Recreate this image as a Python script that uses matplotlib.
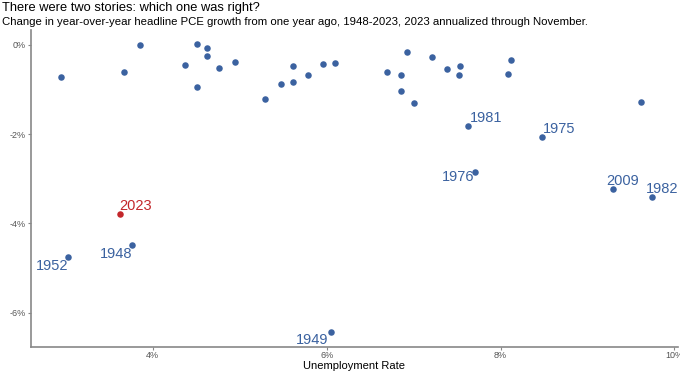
import matplotlib
matplotlib.use("Agg")
import matplotlib.pyplot as plt
from matplotlib.ticker import FuncFormatter

plt.rcParams['font.family'] = ['Liberation Sans', 'DejaVu Sans']

# unlabeled years: unemployment rate (%) and change in PCE growth (pp)
unemp = [2.94, 3.67, 3.85, 4.37, 4.51, 4.51, 4.62, 4.62, 4.76, 4.95,
         5.29, 5.47, 5.61, 5.61, 5.79, 5.96, 6.10, 6.69, 6.92, 6.85,
         6.85, 7.01, 7.21, 7.38, 7.53, 7.52, 8.12, 8.09, 9.62]
pce_chg = [-0.72, -0.60, 0.00, -0.44, 0.01, -0.94, -0.06, -0.25, -0.52, -0.39,
           -1.21, -0.87, -0.48, -0.83, -0.68, -0.42, -0.40, -0.60, -0.16, -0.67,
           -1.04, -1.30, -0.28, -0.54, -0.47, -0.68, -0.35, -0.66, -1.29]

# labeled years
lab_years = ["1981", "1975", "1976", "2009", "1982", "1948", "1952", "1949"]
lab_unemp = [7.63, 8.48, 7.71, 9.29, 9.74, 3.76, 3.03, 6.05]
lab_chg = [-1.81, -2.07, -2.85, -3.24, -3.40, -4.48, -4.76, -6.44]

cur_year = "2023"
cur_unemp = 3.62
cur_chg = -3.80

# label placement (offset in pixels, alignment)
lab_pos = [((1, 1), 'left', 'bottom'), ((1, 1), 'left', 'bottom'),
           ((-1, 2), 'right', 'top'), ((-6, 1), 'left', 'bottom'),
           ((-6, 1), 'left', 'bottom'), ((0, -2), 'right', 'top'),
           ((0, -2), 'right', 'top'), ((-3, -1), 'right', 'top')]

blue = "#3b62a0"
red = "#c3272b"

fig = plt.figure(figsize=(6.8, 3.72), dpi=100)
ax = fig.add_axes([0.0456, 0.067, 0.9514, 0.852])

ax.scatter(unemp, pce_chg, s=22, color=blue, zorder=3, linewidths=0)
ax.scatter(lab_unemp, lab_chg, s=22, color=blue, zorder=3, linewidths=0)
ax.scatter([cur_unemp], [cur_chg], s=22, color=red, zorder=3, linewidths=0)

for yr, x, y, (off, ha, va) in zip(lab_years, lab_unemp, lab_chg, lab_pos):
    ax.annotate(yr, (x, y), xytext=off, textcoords='offset pixels',
                ha=ha, va=va, fontsize=10.5, color=blue)
ax.annotate(cur_year, (cur_unemp, cur_chg), xytext=(0, 1), textcoords='offset pixels',
            ha='left', va='bottom', fontsize=10.5, color=red)

ax.set_xlim(2.60, 10.04)
ax.set_ylim(-6.77, 0.33)
ax.set_xticks([4, 6, 8, 10])
ax.set_yticks([0, -2, -4, -6])
ax.xaxis.set_major_formatter(FuncFormatter(lambda v, p: f"{v:.0f}%"))
ax.yaxis.set_major_formatter(FuncFormatter(lambda v, p: f"{v:.0f}%"))
ax.tick_params(colors="#888888", labelcolor="#555555", labelsize=6.5, length=2.5, width=0.8)
ax.tick_params(axis='x', pad=0.5)
ax.tick_params(axis='y', pad=1.5)
for s in ['top', 'right']:
    ax.spines[s].set_visible(False)
for s in ['left', 'bottom']:
    ax.spines[s].set_color("#888888")
    ax.spines[s].set_linewidth(1.2)

ax.set_xlabel("Unemployment Rate", fontsize=8, color="black", labelpad=0.5)

fig.text(0.003, 0.995, "There were two stories: which one was right?", fontsize=9.3, va='top', ha='left')
fig.text(0.003, 0.955, "Change in year-over-year headline PCE growth from one year ago, 1948-2023, 2023 annualized through November.",
         fontsize=8.2, va='top', ha='left')

fig.savefig("out.png", dpi=100)
